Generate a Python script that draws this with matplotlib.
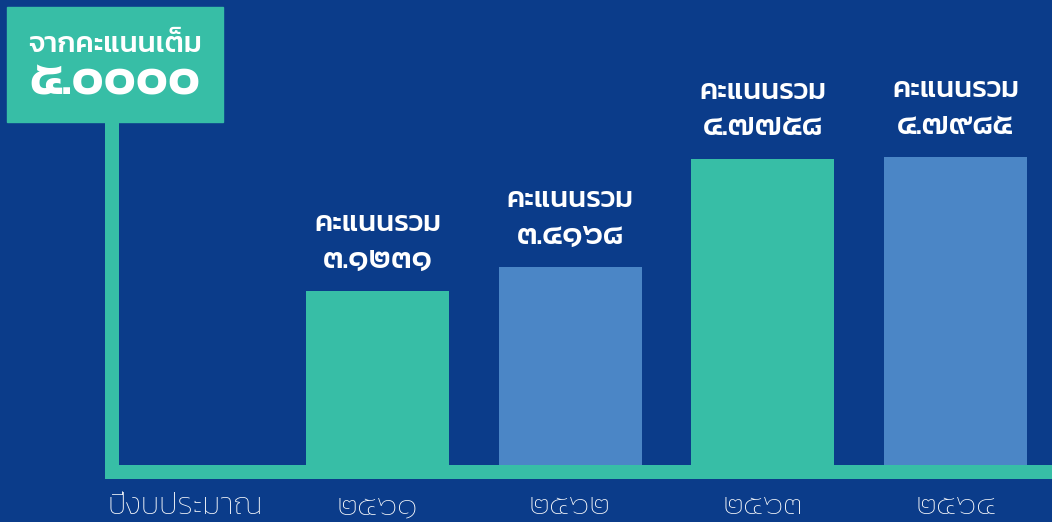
import matplotlib
matplotlib.use("Agg")
import matplotlib.pyplot as plt
from matplotlib.patches import Rectangle

years = [2561, 2562, 2563, 2564]
scores = [3.1231, 3.4168, 4.7758, 4.7985]
full_score = 5.0
axis_title = "ปีงบประมาณ"
bar_title = "คะแนนรวม"
box_title = "จากคะแนนเต็ม"

BG = "#0b3c8a"
GREEN = "#37bea6"
BLUE = "#4b86c6"
bar_colors = [GREEN, BLUE, GREEN, BLUE]

thai = str.maketrans("0123456789", "๐๑๒๓๔๕๖๗๘๙")
def th(s):
    return str(s).translate(thai)

plt.rcParams["font.family"] = ["Kanit", "DejaVu Sans"]

fig = plt.figure(figsize=(10.52, 5.22), dpi=100, facecolor=BG)
ax = fig.add_axes([0, 0, 1, 1])
ax.set_facecolor(BG)
ax.axis("off")

# pixel scale: bars are 192.67 px apart, 79.87 px per score unit
base = 0.939
ax.set_xlim(-1.959, 3.501)
ax.set_ylim(base - 57 / 79.87, base + 465 / 79.87)

x = list(range(len(years)))
ax.bar(x, [s - base for s in scores], bottom=base, width=0.742, color=bar_colors)

# axis lines
ax.axhspan(base - 14 / 79.87, base, xmin=105 / 1052, xmax=1, color=GREEN, lw=0)
ax.axvspan(-1.378 - 7 / 192.67, -1.378 + 7 / 192.67, ymin=43 / 522, ymax=0.8, color=GREEN, lw=0)

for i, s in enumerate(scores):
    ax.annotate(bar_title, (i, s), xytext=(0, 48), textcoords="offset points",
                ha="center", va="center", color="white", fontsize=21, fontweight="medium")
    ax.annotate(th(f"{s:.4f}"), (i, s), xytext=(0, 22), textcoords="offset points",
                ha="center", va="center", color="white", fontsize=23, fontweight="medium")

# bottom labels
ax.text(-1.0, base - 42 / 79.87, axis_title, ha="center", va="center",
        color="white", fontsize=22, fontweight="light")
for i, y in enumerate(years):
    ax.text(i, base - 42 / 79.87, th(y), ha="center", va="center",
            color="white", fontsize=22.5, fontweight="light")

# full score box
fig.patches.append(Rectangle((7 / 1052, 400 / 522), 216 / 1052, 115 / 522,
                             transform=fig.transFigure, color=GREEN, zorder=5))
fig.text(115 / 1052, 1 - 45 / 522, box_title, ha="center", va="center",
         color="white", fontsize=21, fontweight="medium", zorder=6)
fig.text(115 / 1052, 1 - 82 / 522, th(f"{full_score:.4f}"), ha="center", va="center",
         color="white", fontsize=38, fontweight="semibold", zorder=6)

fig.savefig("out.png", dpi=100, facecolor=BG)
